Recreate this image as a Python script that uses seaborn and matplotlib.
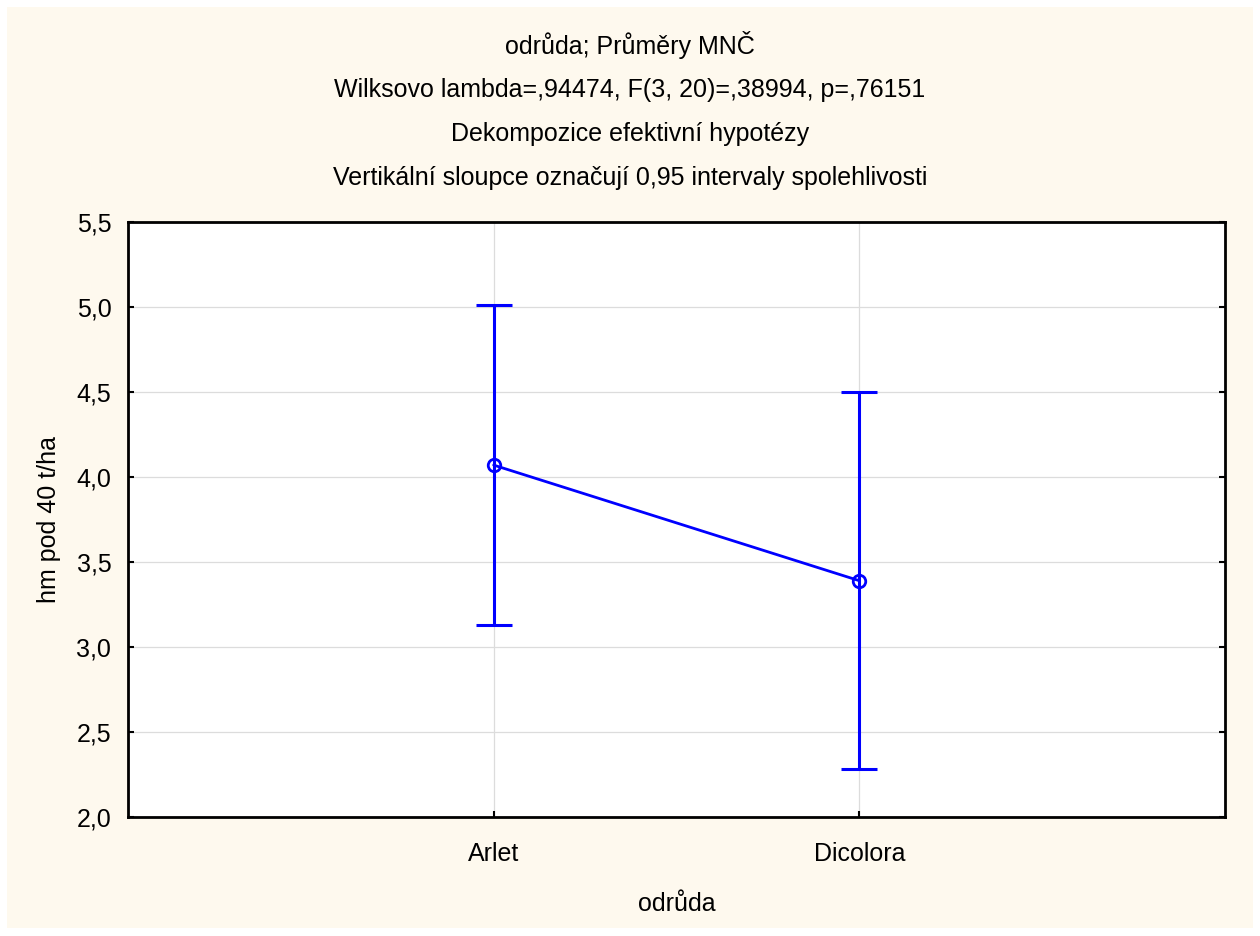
import matplotlib
matplotlib.use("Agg")
import matplotlib.pyplot as plt
from matplotlib.patches import Rectangle
from matplotlib.ticker import FuncFormatter, MultipleLocator
import seaborn as sns
import pandas as pd

# LS means of yield by cultivar with 0.95 confidence limits
cultivars = ["Arlet", "Dicolora"]
means = [4.07, 3.39]
ci_low = [3.13, 2.28]
ci_high = [5.01, 4.50]

title_lines = [
    "odrůda; Průměry MNČ",
    "Wilksovo lambda=,94474, F(3, 20)=,38994, p=,76151",
    "Dekompozice efektivní hypotézy",
    "Vertikální sloupce označují 0,95 intervaly spolehlivosti",
]
x_label = "odrůda"
y_label = "hm pod 40 t/ha"

sns.set_theme(style="white")
plt.rcParams["font.family"] = ["Liberation Sans", "DejaVu Sans"]

df = pd.DataFrame({"odruda": cultivars, "mean": means,
                   "lo": ci_low, "hi": ci_high})

fig = plt.figure(figsize=(12.6, 9.36), dpi=100, facecolor="white")
# cream panel behind everything
fig.patches.append(Rectangle((7 / 1260, 8 / 936), 1246 / 1260, 921 / 936,
                             transform=fig.transFigure, facecolor="#FEF9EE",
                             edgecolor="none", zorder=-10))

ax = fig.add_axes([128 / 1260, 119 / 936, 1097 / 1260, 595 / 936])
ax.set_zorder(1)
ax.set_facecolor("white")

blue = "#0000FF"
err_lo = df["mean"] - df["lo"]
err_hi = df["hi"] - df["mean"]
ax.errorbar(df["odruda"], df["mean"], yerr=[err_lo, err_hi], fmt="none",
            ecolor=blue, elinewidth=2.2, capsize=13, capthick=2.2, zorder=3)
sns.lineplot(data=df, x="odruda", y="mean", ax=ax, color=blue, linewidth=2.0,
             marker="o", markersize=9, markerfacecolor="none",
             markeredgecolor=blue, markeredgewidth=2.0, sort=False, zorder=4)

ax.set_xlim(-1, 2)
ax.set_ylim(2.0, 5.5)
ax.yaxis.set_major_locator(MultipleLocator(0.5))
ax.yaxis.set_major_formatter(FuncFormatter(lambda v, p: f"{v:.1f}".replace(".", ",")))

ax.grid(True, color="#DCDCDC", linewidth=0.9)
ax.set_axisbelow(True)
for s in ax.spines.values():
    s.set_color("black")
    s.set_linewidth(2.0)
ax.tick_params(axis="both", direction="in", length=4, width=1.5, color="black",
               labelsize=18, labelcolor="black", pad=12)
ax.tick_params(axis="y", left=True, right=True)
ax.tick_params(axis="x", bottom=True, pad=18)

ax.set_xlabel(x_label, fontsize=18, color="black", labelpad=19)
ax.set_ylabel(y_label, fontsize=18, color="black", labelpad=11)

for i, line in enumerate(title_lines):
    fig.text(0.5, 1 - (45 + i * 44.5) / 936, line, ha="center", va="center",
             fontsize=18, color="black")

fig.savefig("out.png", dpi=100, facecolor=fig.get_facecolor())
